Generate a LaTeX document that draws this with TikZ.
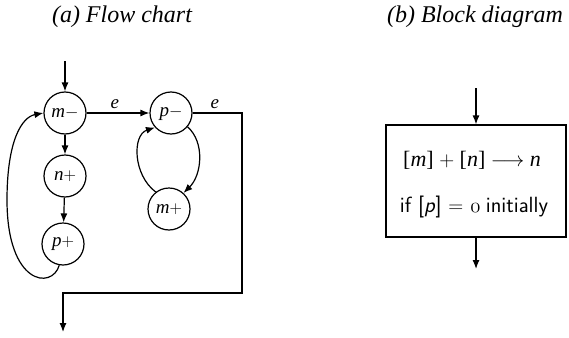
\documentclass[tikz,border=0pt]{standalone}
\usepackage{fontspec}
\setmainfont{Liberation Serif}
\usetikzlibrary{arrows.meta}
\begin{document}
\begin{tikzpicture}[x=1pt,y=-1pt,
  every path/.style={line width=1.2pt},
  tip/.style={-{Latex[length=9pt,width=7pt]}},
  state/.style={circle,draw,line width=1.2pt,minimum size=42pt,inner sep=0pt,font=\fontsize{19}{22}\selectfont},
  lbl/.style={font=\fontsize{19}{22}\selectfont\itshape},
  ttl/.style={font=\fontsize{24}{28}\selectfont\itshape},
  blk/.style={draw,line width=1.2pt,minimum width=180pt,minimum height=112pt,inner sep=0pt},
  btxt/.style={font=\fontsize{22}{26}\selectfont}]
\useasboundingbox (0,0) rectangle (569,337);
% titles
\node[ttl] (ta) at (122,17) {(a) Flow chart};
\node[ttl] (tb) at (475,17) {(b) Block diagram};
% flow chart nodes
\node[state] (mm) at (65,113) {\textit{m}$-$};
\node[state] (np) at (65,176) {\textit{n}$+$};
\node[state] (pp) at (63,244) {\textit{p}$+$};
\node[state] (pm) at (171,113) {\textit{p}$-$};
\node[state] (mp) at (169,209) {\textit{m}$+$};
\coordinate (in) at (65,61);
\coordinate (c1) at (242,113);
\coordinate (c2) at (242,293);
\coordinate (c3) at (63,293);
\coordinate (out) at (63,332);
% connectors
\draw[tip] (in) -- (mm.north);
\draw[tip] (mm) -- (np);
\draw[tip] (np) -- (pp);
\draw[tip] (mm) -- node[lbl,above=0pt,pos=0.45]{e} (pm);
\draw[tip] (pm.east) -- node[lbl,above=0pt,pos=0.45]{e} (c1) -- (c2) -- (c3) -- (out);
\draw[tip] (pp.-100) .. controls (52,290) and (7,285) .. (7,200)
   .. controls (7,140) and (22,117) .. (mm.west);
\draw[tip] (pm.-40) .. controls (205,142) and (202,175) .. (mp.48);
\draw[tip] (mp.128) .. controls (133,175) and (132,135) .. (pm.-138);
% block diagram
\node[blk] (box) at (476,181) {};
\node[btxt] (l1) at (472,160) {[\textit{m}] $+$ [\textit{n}] $\longrightarrow$ \textit{n}};
\node[btxt] (l2) at (474,207) {\sffamily if [\textit{p}] $=$ \rmfamily$\mathnormal{0}$ \sffamily initially};
\coordinate (bin) at (476,88);
\coordinate (bout) at (476,269);
\draw[tip] (bin) -- (box.north);
\draw[tip] (box.south) -- (bout);
\end{tikzpicture}
\end{document}
